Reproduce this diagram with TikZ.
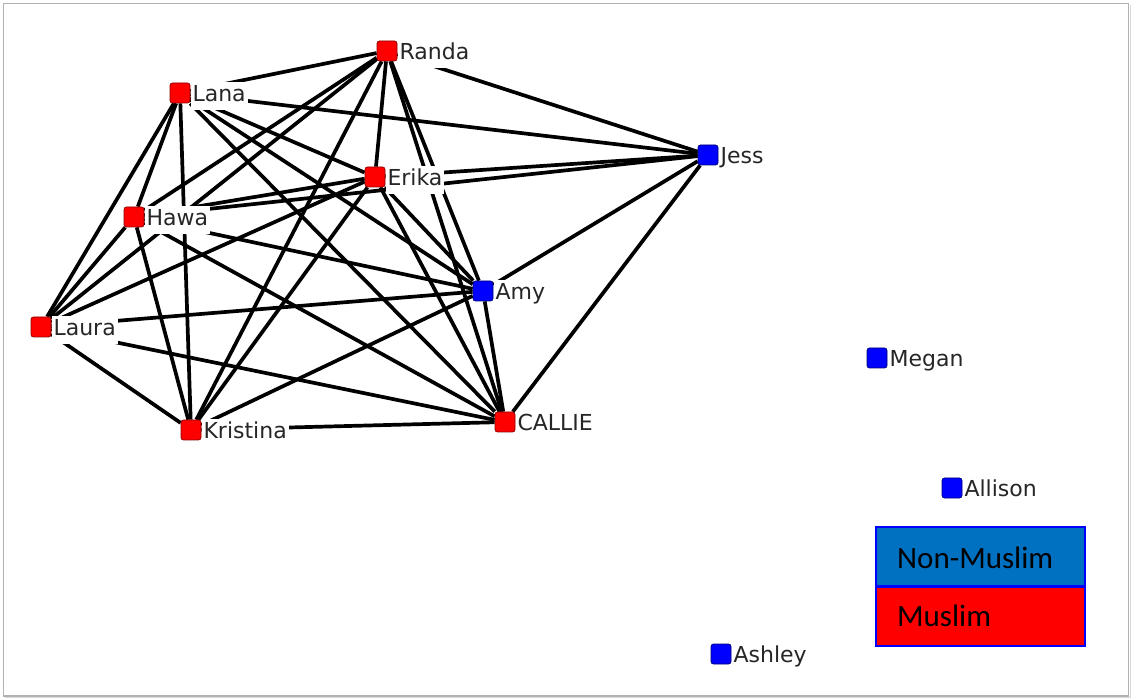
\documentclass[tikz,border=0pt]{standalone}
\usepackage{fontspec}
\newfontfamily\lblfont{DejaVu Sans}
\newfontfamily\legfont{Carlito}
\definecolor{netred}{RGB}{255,0,0}
\definecolor{netblue}{RGB}{0,0,255}
\definecolor{legblue}{RGB}{0,112,192}
\definecolor{lbltext}{RGB}{38,38,38}
\pgfdeclarelayer{canvas}
\pgfdeclarelayer{edgelayer}
\pgfsetlayers{canvas,edgelayer,main}

\begin{document}
\begin{tikzpicture}[x=1pt,y=-1pt,
  actor/.style={rectangle, minimum size=20pt, inner sep=0pt, rounded corners=2.5pt, line width=0.7pt},
  muslim/.style={actor, fill=netred, draw=red!55!black},
  other/.style={actor, fill=netblue, draw=blue!45!black},
  lbl/.style={anchor=west, fill=white, inner xsep=2pt, inner ysep=4pt, text height=15.5pt, text depth=4.5pt,
    yshift=-2.7pt, font=\lblfont\fontsize{22}{26}\selectfont, text=lbltext},
  tie/.style={line width=3.7pt, black},
  legcell/.style={rectangle, draw=netblue, line width=1.8pt, minimum width=209pt,
    minimum height=58.5pt, inner sep=0pt, anchor=north west},
  legtext/.style={anchor=base west, inner sep=0pt, font=\legfont\fontsize{31}{36}\selectfont, text=black}]

\useasboundingbox (0,0) rectangle (1133,700);

% page and window frame
\begin{pgfonlayer}{canvas}
\fill[white] (0,0) rectangle (1133,700);
\draw[gray!30, line width=1.5pt] (5,697.5) -- (1130.5,697.5) -- (1130.5,5);
\draw[gray!60, line width=1.3pt] (3.5,3.5) rectangle (1128.5,696);
\end{pgfonlayer}

% actors
\node[muslim] (randa)    at (387,51)  {};
\node[muslim] (lana)     at (180,93)  {};
\node[muslim] (erika)    at (375,177) {};
\node[muslim] (hawa)     at (134,217) {};
\node[muslim] (laura)    at (41,327)  {};
\node[muslim] (kristina) at (191,430) {};
\node[muslim] (callie)   at (505,422) {};
\node[other]  (amy)      at (483,291) {};
\node[other]  (jess)     at (708,155) {};
\node[other]  (megan)    at (877,358) {};
\node[other]  (allison)  at (952,488) {};
\node[other]  (ashley)   at (721,654) {};

% names
\node[lbl] (randaL)    at (randa.east)    {Randa};
\node[lbl] (lanaL)     at (lana.east)     {Lana};
\node[lbl] (erikaL)    at (erika.east)    {Erika};
\node[lbl] (hawaL)     at (hawa.east)     {Hawa};
\node[lbl] (lauraL)    at (laura.east)    {Laura};
\node[lbl] (kristinaL) at (kristina.east) {Kristina};
\node[lbl] (callieL)   at (callie.east)   {CALLIE};
\node[lbl] (amyL)      at (amy.east)      {Amy};
\node[lbl] (jessL)     at (jess.east)     {Jess};
\node[lbl] (meganL)    at (megan.east)    {Megan};
\node[lbl] (allisonL)  at (allison.east)  {Allison};
\node[lbl] (ashleyL)   at (ashley.east)   {Ashley};

% ties
\begin{pgfonlayer}{edgelayer}
\foreach \a/\b in {randa/lana, randa/jess, randa/hawa, randa/laura, randa/kristina,
    randa/erika, randa/amy, randa/callie,
    lana/jess, lana/hawa, lana/laura, lana/kristina, lana/erika, lana/amy, lana/callie,
    erika/hawa, erika/jess, erika/laura, erika/kristina, erika/amy, erika/callie,
    hawa/jess, hawa/amy, hawa/callie, hawa/kristina, hawa/laura,
    amy/jess, amy/callie, amy/laura, amy/kristina,
    laura/callie, laura/kristina, kristina/callie, callie/jess}
  \draw[tie] (\a) -- (\b);
\end{pgfonlayer}

% legend
\node[legcell, fill=legblue] (legnon) at (875,526) {};
\node[legcell, fill=netred]  (legmus) at (legnon.south west) {};
\node[legtext] (legnonT) at (897,568) {Non-Muslim};
\node[legtext] (legmusT) at (897,626) {Muslim};
\end{tikzpicture}
\end{document}
